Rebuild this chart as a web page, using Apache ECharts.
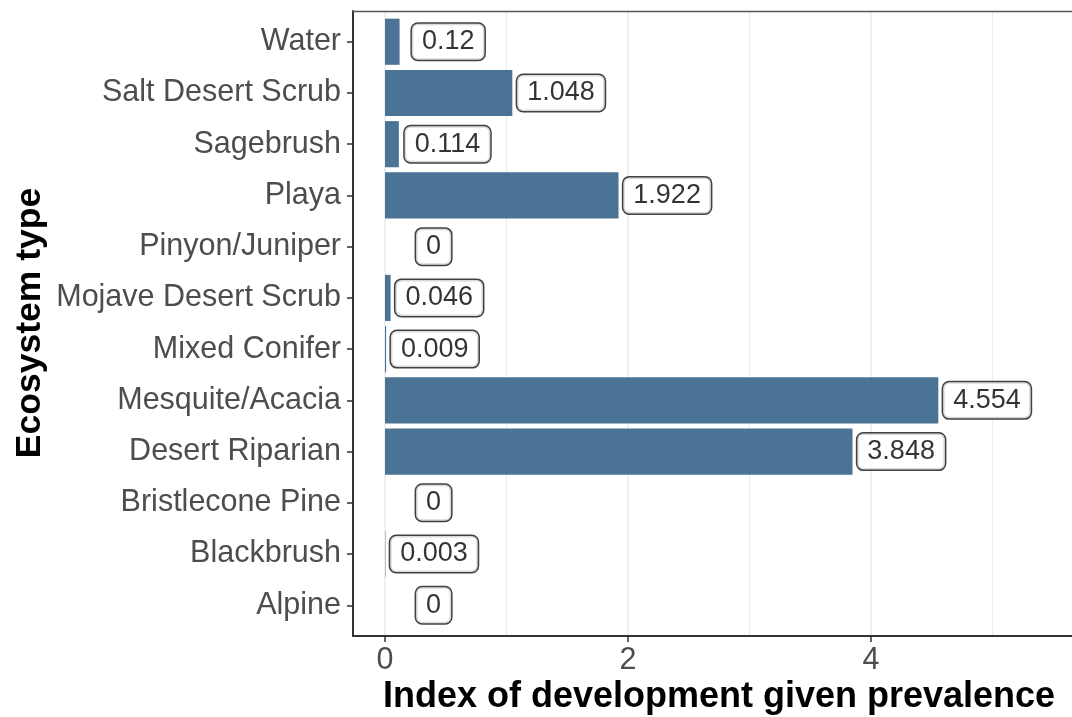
<!DOCTYPE html>
<html><head><meta charset="utf-8">
<script src="https://cdn.jsdelivr.net/npm/echarts@6/dist/echarts.min.js"></script>
<style>html,body{margin:0;padding:0;background:#fff;overflow:hidden;width:1072px;height:717px}#c{display:block;width:1072px;height:717px}</style>
</head><body><div id="c"></div>
<script>
const categories = ['Alpine','Blackbrush','Bristlecone Pine','Desert Riparian','Mesquite/Acacia','Mixed Conifer','Mojave Desert Scrub','Pinyon/Juniper','Playa','Sagebrush','Salt Desert Scrub','Water'];
const values = [0, 0.003, 0, 3.848, 4.554, 0.009, 0.046, 0, 1.922, 0.114, 1.048, 0.12];
const labelNudge = 0.4;
const xTitle = 'Index of development given prevalence';
const yTitle = 'Ecosystem type';

const FONT = "'Liberation Sans', Arial, sans-serif";
const panelTop = 11, panelBottom = 81, panelLeft = 353, dataLeft = 385, rightEdge = -42;
const band = (717 - panelTop - panelBottom) / (categories.length + 0.2);
const pad = band * 0.1;

const chart = echarts.init(document.getElementById('c'), null, {renderer: 'canvas', width: 1072, height: 717});
const gridBase = {outerBoundsMode: 'none', containLabel: false};
chart.setOption({
  animation: false,
  backgroundColor: '#fff',
  grid: [
    Object.assign({left: panelLeft, right: rightEdge, top: panelTop, bottom: panelBottom}, gridBase),
    Object.assign({left: dataLeft, right: rightEdge, top: panelTop, bottom: panelBottom}, gridBase),
    Object.assign({left: dataLeft, right: rightEdge, top: panelTop + pad, bottom: panelBottom + pad}, gridBase),
    Object.assign({left: panelLeft, right: rightEdge, top: panelTop + pad, bottom: panelBottom + pad}, gridBase)
  ],
  xAxis: [
    {gridIndex: 0, type: 'value', min: 0, max: 1, axisLine: {show: true, lineStyle: {color: '#333', width: 2}},
     axisTick: {show: false}, axisLabel: {show: false}, splitLine: {show: false}},
    {gridIndex: 0, type: 'value', position: 'top', min: 0, max: 1, axisLine: {show: true, lineStyle: {color: '#555', width: 1.3}},
     axisTick: {show: false}, axisLabel: {show: false}, splitLine: {show: false}},
    {gridIndex: 1, type: 'value', min: 0, max: 6, interval: 2,
     axisLine: {show: false},
     axisTick: {show: true, length: 6, lineStyle: {color: '#333', width: 1.5}},
     axisLabel: {fontSize: 30.5, color: '#4d4d4d', margin: 9, fontFamily: FONT},
     splitLine: {show: true, lineStyle: {color: '#ebebeb', width: 1.5}},
     minorTick: {show: false, splitNumber: 2},
     minorSplitLine: {show: true, lineStyle: {color: '#ebebeb', width: 1}}},
    {gridIndex: 2, type: 'value', min: 0, max: 6, show: false},
    {gridIndex: 3, type: 'value', min: 0, max: 1, show: false}
  ],
  yAxis: [
    {gridIndex: 0, type: 'value', min: 0, max: 1, axisLine: {show: true, lineStyle: {color: '#333', width: 2}},
     axisTick: {show: false}, axisLabel: {show: false}, splitLine: {show: false}},
    {gridIndex: 1, type: 'value', show: false},
    {gridIndex: 2, type: 'category', data: categories, show: false},
    {gridIndex: 3, type: 'category', data: categories,
     axisLine: {show: false},
     axisTick: {show: true, alignWithLabel: true, length: 6, lineStyle: {color: '#333', width: 1.5}},
     axisLabel: {fontSize: 30.5, color: '#4d4d4d', margin: 12, fontFamily: FONT},
     splitLine: {show: false}}
  ],
  series: [
    {type: 'bar', xAxisIndex: 3, yAxisIndex: 2, data: values, barWidth: '90%',
     itemStyle: {color: 'rgba(54,100,139,0.9)'}, silent: true},
    {type: 'scatter', xAxisIndex: 3, yAxisIndex: 2, silent: true,
     data: values.map((v, i) => [v + labelNudge, i]),
     symbol: 'circle', symbolSize: 1, itemStyle: {color: 'rgba(0,0,0,0)'},
     label: {show: true, position: 'inside', formatter: p => String(values[p.dataIndex]),
       fontSize: 27, color: '#000', fontFamily: FONT, backgroundColor: '#fff',
       borderColor: '#111', borderWidth: 1.5, borderRadius: 6, padding: [5, 10, 4, 10]}}
  ],
  graphic: [
    {type: 'text', x: 719, y: 697, style: {text: xTitle, font: "bold 36px " + FONT, fill: '#000', textAlign: 'center', textVerticalAlign: 'middle'}},
    {type: 'text', x: 30, y: 323, rotation: Math.PI / 2, style: {text: yTitle, font: "bold 35.5px " + FONT, fill: '#000', textAlign: 'center', textVerticalAlign: 'middle'}}
  ]
});
</script></body></html>
